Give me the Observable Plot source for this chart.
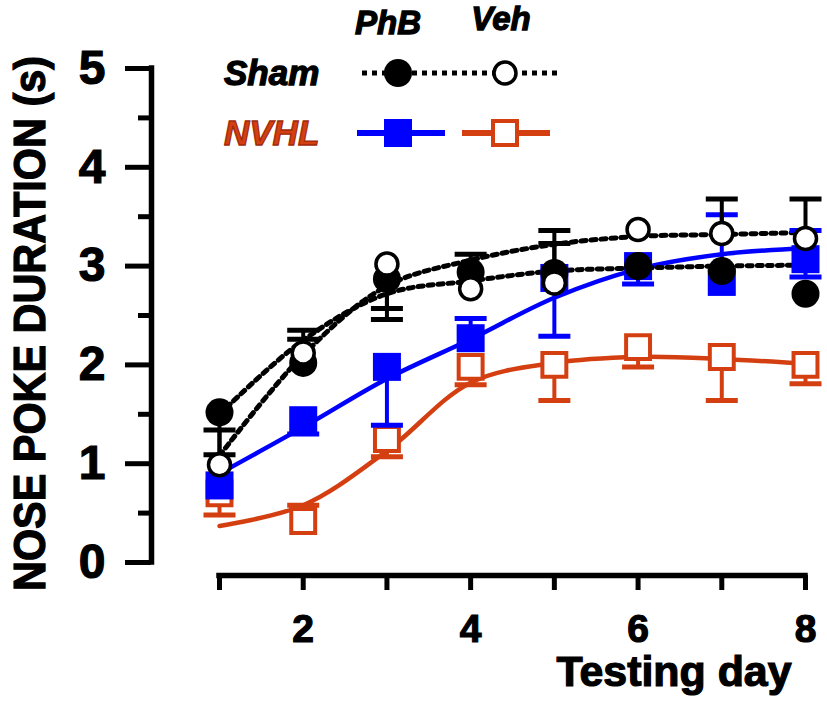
<!DOCTYPE html>
<html>
<head>
<meta charset="utf-8">
<script src="https://cdn.jsdelivr.net/npm/d3@7"></script>
<script src="https://cdn.jsdelivr.net/npm/@observablehq/plot@0.6"></script>
<style>
  html, body { margin: 0; padding: 0; background: #fff; }
  #wrap { position: relative; width: 827px; height: 716px; }
  #wrap svg { position: absolute; left: 0; top: 0; }
</style>
</head>
<body>
<div id="wrap"></div>
<script>
// ---------- data ----------
const days = [1, 2, 3, 4, 5, 6, 7, 8];
const xTickLabels = [2, 4, 6, 8];
const yTicks = [0, 1, 2, 3, 4, 5];
const yMinorTicks = [0.5, 1.5, 2.5, 3.5, 4.5];
const yTitle = "NOSE POKE DURATION (s)";
const xTitle = "Testing day";
const groups = ["Sham", "NVHL"];
const treatments = ["PhB", "Veh"];

// means
const shamPhB = [1.52, 2.02, 2.87, 2.94, 2.93, 3.00, 2.95, 2.72];
const shamVeh = [0.99, 2.12, 3.02, 2.77, 2.83, 3.37, 3.33, 3.28];
const nvhlPhB = [0.78, 1.44, 1.98, 2.27, 2.88, 3.00, 2.84, 3.07];
const nvhlVeh = [0.70, 0.42, 1.25, 1.98, 2.00, 2.18, 2.08, 2.00];

// visible error-bar ends (null = hidden behind symbol)
const shamPhBErr = [1.09, 2.26, 2.57, 3.12, 3.23, null, null, null];
const shamVehErr = [1.34, 2.35, 2.46, null, 3.36, null, 3.68, 3.68];
const nvhlPhBErr = [null, 1.30, 1.39, 2.47, 2.29, 2.82, 3.52, 3.36];
const nvhlPhBErr2 = [null, null, null, null, null, null, null, 2.89];
const nvhlVehErr = [0.48, 0.58, 1.07, 1.80, 1.64, 1.98, 1.64, 1.81];

// fitted curves (read at each day)
const shamPhBFit = [1.50, 2.25, 2.72, 2.85, 2.95, 2.98, 3.00, 3.01];
const shamVehFit = [1.08, 2.10, 2.80, 3.06, 3.22, 3.30, 3.32, 3.34];
const nvhlPhBFit = [0.90, 1.37, 1.86, 2.26, 2.68, 2.97, 3.12, 3.18];
const nvhlVehFit = [0.37, 0.58, 1.13, 1.82, 2.02, 2.08, 2.06, 2.01];

// ---------- styles ----------
const BLUE = "#0000ff";
const ORANGE = "#d43f12";
const BLACK = "#000";
const FONT = "'Liberation Sans', Arial, sans-serif";

const rows = (vals) => days.map((d, i) => ({day: d, v: vals[i]}));
const errRows = (means, ends) =>
  days.map((d, i) => ({day: d, mean: means[i], end: ends[i]})).filter(r => r.end != null);

const capSymbol = {
  draw(ctx, size) {
    const r = Math.sqrt(size / Math.PI);
    ctx.moveTo(-r, 0);
    ctx.lineTo(r, 0);
  }
};

function errorMarks(means, ends, color) {
  const data = errRows(means, ends);
  return [
    Plot.ruleX(data, {x: "day", y1: "mean", y2: "end", stroke: color, strokeWidth: 4}),
    Plot.dot(data, {x: "day", y: "end", symbol: capSymbol, r: 16, stroke: color, strokeWidth: 5})
  ];
}

const AXDX = -68;

const chart = Plot.plot({
  width: 827,
  height: 716,
  marginLeft: 219,
  marginRight: 22,
  marginTop: 68,
  marginBottom: 154,
  x: {domain: [days[0], days[days.length - 1]], axis: null},
  y: {domain: [yTicks[0], yTicks[yTicks.length - 1]], axis: null},
  style: {fontFamily: FONT, fontWeight: "bold", background: "#fff", color: "#000"},
  marks: [
    // y axis
    Plot.ruleX([days[0]], {y1: yTicks[0], y2: yTicks[yTicks.length - 1], dx: AXDX, strokeWidth: 5.5, strokeLinecap: "square"}),
    Plot.axisY(yMinorTicks, {tickSize: 13, tickFormat: () => "", dx: AXDX, strokeWidth: 5, label: null}),
    Plot.axisY(yTicks, {tickSize: 26, tickPadding: 20, dx: AXDX, strokeWidth: 5, fontSize: 48,
      tickFormat: d => String(d), label: null}),
    // x axis
    Plot.ruleY([yTicks[0]], {x1: days[0], x2: days[days.length - 1], dy: 13, strokeWidth: 5.5, strokeLinecap: "square"}),
    Plot.axisX(days, {tickSize: 15, tickPadding: 24, dy: 13, strokeWidth: 5, fontSize: 39,
      tickFormat: d => xTickLabels.includes(d) ? String(d) : "", label: null}),
    // titles
    Plot.text([yTitle], {frameAnchor: "left", textAnchor: "middle", rotate: -90, dx: -189, dy: 8, fontSize: 44, fontWeight: "bold"}),
    Plot.text([xTitle], {frameAnchor: "bottom-right", textAnchor: "end", dx: -14, dy: 123, fontSize: 42, fontWeight: "bold"}),

    // fitted curves
    Plot.line(rows(nvhlVehFit), {x: "day", y: "v", stroke: ORANGE, strokeWidth: 4.5, curve: "catmull-rom"}),
    Plot.line(rows(nvhlPhBFit), {x: "day", y: "v", stroke: BLUE, strokeWidth: 4.5, curve: "catmull-rom"}),
    Plot.line(rows(shamPhBFit), {x: "day", y: "v", stroke: BLACK, strokeWidth: 5, strokeDasharray: "5 5", curve: "catmull-rom"}),
    Plot.line(rows(shamVehFit), {x: "day", y: "v", stroke: BLACK, strokeWidth: 5, strokeDasharray: "5 5", curve: "catmull-rom"}),

    // NVHL Veh
    ...errorMarks(nvhlVeh, nvhlVehErr, ORANGE),
    Plot.dot(rows(nvhlVeh), {x: "day", y: "v", symbol: "square", r: 13.5, fill: "#fff", stroke: ORANGE, strokeWidth: 4}),
    // NVHL PhB
    ...errorMarks(nvhlPhB, nvhlPhBErr, BLUE),
    ...errorMarks(nvhlPhB, nvhlPhBErr2, BLUE),
    Plot.dot(rows(nvhlPhB), {x: "day", y: "v", symbol: "square", r: 15.8, fill: BLUE}),
    // Sham PhB
    ...errorMarks(shamPhB, shamPhBErr, BLACK),
    Plot.dot(rows(shamPhB), {x: "day", y: "v", r: 14, fill: BLACK}),
    // Sham Veh
    ...errorMarks(shamVeh, shamVehErr, BLACK),
    Plot.dot(rows(shamVeh), {x: "day", y: "v", r: 11, fill: "#fff", stroke: BLACK, strokeWidth: 3.5})
  ]
});

const wrap = document.getElementById("wrap");
wrap.appendChild(chart);

// heavier glyphs and reference proportions for the titles
d3.select(chart).selectAll("text").each(function () {
  const t = d3.select(this);
  t.attr("stroke", "#000").attr("stroke-width", 1.2).attr("paint-order", "stroke");
  if (this.textContent === yTitle) t.attr("textLength", 535).attr("lengthAdjust", "spacingAndGlyphs");
  if (this.textContent === xTitle) t.attr("textLength", 235).attr("lengthAdjust", "spacingAndGlyphs");
});

// ---------- legend overlay ----------
const leg = d3.select(wrap).append("svg")
  .attr("width", 827).attr("height", 160)
  .style("font-family", FONT).style("font-weight", "bold").style("font-style", "italic");

const colX = [398, 505];
leg.selectAll("text.tr").data(treatments).join("text")
  .attr("x", (d, i) => colX[i] - 10 + i * 6).attr("y", (d, i) => i === 0 ? 34 : 30)
  .attr("text-anchor", "middle").attr("font-size", 33)
  .attr("stroke", BLACK).attr("stroke-width", 1.3)
  .text(d => d);

const rowY = [73, 133];
leg.selectAll("text.gr").data(groups).join("text")
  .attr("x", 224).attr("y", (d, i) => rowY[i] + 12)
  .attr("font-size", 35).attr("fill", (d, i) => i === 0 ? BLACK : ORANGE)
  .attr("stroke", (d, i) => i === 0 ? BLACK : "#a02a08").attr("stroke-width", 1.3)
  .text(d => d);

// Sham row
leg.append("line").attr("x1", 362).attr("x2", 560).attr("y1", rowY[0]).attr("y2", rowY[0])
  .attr("stroke", BLACK).attr("stroke-width", 5).attr("stroke-dasharray", "5 5");
leg.append("circle").attr("cx", colX[0]).attr("cy", rowY[0]).attr("r", 14).attr("fill", BLACK);
leg.append("circle").attr("cx", colX[1]).attr("cy", rowY[0]).attr("r", 11).attr("fill", "#fff")
  .attr("stroke", BLACK).attr("stroke-width", 3.5);
// NVHL row
leg.append("line").attr("x1", 357).attr("x2", 445).attr("y1", rowY[1]).attr("y2", rowY[1])
  .attr("stroke", BLUE).attr("stroke-width", 6);
leg.append("rect").attr("x", colX[0] - 14).attr("y", rowY[1] - 14).attr("width", 28).attr("height", 28).attr("fill", BLUE);
leg.append("line").attr("x1", 462).attr("x2", 550).attr("y1", rowY[1]).attr("y2", rowY[1])
  .attr("stroke", ORANGE).attr("stroke-width", 6);
leg.append("rect").attr("x", colX[1] - 12).attr("y", rowY[1] - 12).attr("width", 24).attr("height", 24)
  .attr("fill", "#fff").attr("stroke", ORANGE).attr("stroke-width", 4);
</script>
</body>
</html>
